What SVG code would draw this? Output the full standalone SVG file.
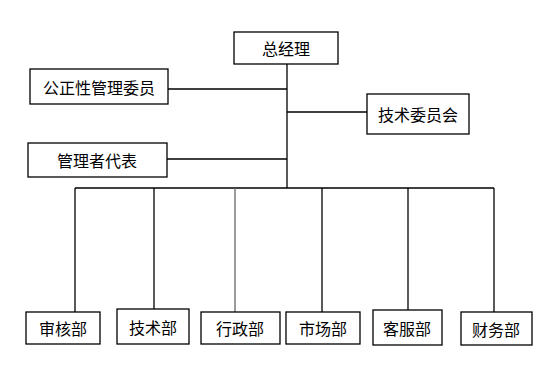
<svg xmlns="http://www.w3.org/2000/svg" width="547" height="377" viewBox="0 0 547 377">
<style>
.box{fill:#fff;stroke:#000;stroke-width:1.3}
.t{font-family:"Noto Sans CJK SC","Noto Sans",sans-serif;font-size:16px;fill:#000;text-anchor:middle;dominant-baseline:central}
.c line{stroke:#000;stroke-width:1.3}
</style>
<rect width="547" height="377" fill="#fff"/>
<g class="c" id="connectors">
<line x1="287" y1="64" x2="287" y2="188"/>
<line x1="168" y1="89" x2="287" y2="89"/>
<line x1="167" y1="159" x2="287" y2="159"/>
<line x1="287" y1="112" x2="367" y2="112"/>
<line x1="75" y1="188" x2="494" y2="188"/>
<line x1="75" y1="188" x2="75" y2="312"/>
<line x1="154" y1="188" x2="154" y2="309"/>
<line x1="235" y1="188" x2="235" y2="312" style="stroke:#666"/>
<line x1="322" y1="188" x2="322" y2="312"/>
<line x1="408" y1="188" x2="408" y2="310"/>
<line x1="494" y1="188" x2="494" y2="312"/>
</g>
<g id="gm"><rect class="box" x="234" y="32" width="104" height="32"/><text class="t" x="286" y="48">总经理</text></g>
<g id="gzx"><rect class="box" x="30" y="69" width="138" height="35"/><text class="t" x="99" y="87">公正性管理委员</text></g>
<g id="jswy"><rect class="box" x="367" y="94" width="102" height="40"/><text class="t" x="418" y="114">技术委员会</text></g>
<g id="glz"><rect class="box" x="28" y="143" width="139" height="34"/><text class="t" x="97" y="160">管理者代表</text></g>
<g id="shb"><rect class="box" x="26" y="312" width="74" height="32"/><text class="t" x="63" y="328">审核部</text></g>
<g id="jsb"><rect class="box" x="117" y="309" width="72" height="35"/><text class="t" x="153" y="327">技术部</text></g>
<g id="xzb"><rect class="box" x="201" y="312" width="79" height="32"/><text class="t" x="240" y="328">行政部</text></g>
<g id="scb"><rect class="box" x="286" y="312" width="74" height="32"/><text class="t" x="323" y="328">市场部</text></g>
<g id="kfb"><rect class="box" x="373" y="310" width="69" height="35"/><text class="t" x="407" y="328">客服部</text></g>
<g id="cwb"><rect class="box" x="461" y="312" width="71" height="33"/><text class="t" x="496" y="329">财务部</text></g>
</svg>
